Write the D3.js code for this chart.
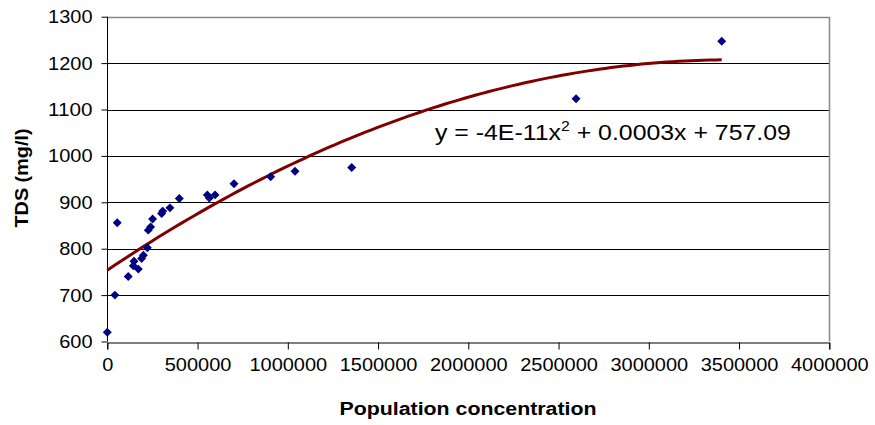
<!DOCTYPE html>
<html>
<head>
<meta charset="utf-8">
<script src="https://cdn.jsdelivr.net/npm/d3@7"></script>
<style>
  body { margin: 0; background: #fff; }
  text { font-family: "Liberation Sans", Arial, sans-serif; fill: #000; }
</style>
</head>
<body>
<div id="chart"></div>
<script>
// scatter data
const population = [0, 42000, 55000, 116000, 144000, 148000, 172000, 190000, 200000, 222000,
  227000, 240000, 251000, 301000, 307000, 347000, 399000, 554000, 565000, 597000,
  702000, 905000, 1040000, 1354000, 2597000, 3404000];
const tds = [620, 700, 856, 740, 763, 773, 756, 779, 786, 802,
  840, 847, 864, 876, 881, 888, 908, 916, 909, 916,
  940, 955, 967, 975, 1123, 1247];

const xTicks = [0, 500000, 1000000, 1500000, 2000000, 2500000, 3000000, 3500000, 4000000];
const yTicks = [600, 700, 800, 900, 1000, 1100, 1200, 1300];
const equationLabel = ["y = -4E-11x", "2", " + 0.0003x + 757.09"];

const width = 875, height = 425;
const x = d3.scaleLinear().domain([0, 4000000]).range([107.3, 829.3]);
const y = d3.scaleLinear().domain([600, 1300]).range([341.5, 16.7]);

const svg = d3.select("#chart").append("svg")
  .attr("width", width).attr("height", height);

// gridlines
svg.append("g")
  .selectAll("line")
  .data(yTicks.slice(1, -1))
  .join("line")
  .attr("x1", x(0)).attr("x2", x(4000000))
  .attr("y1", d => Math.round(y(d)) + 0.5).attr("y2", d => Math.round(y(d)) + 0.5)
  .attr("stroke", "#000").attr("stroke-width", 1);

// plot border (top/right grey)
svg.append("path")
  .attr("d", `M${x(0)},${Math.round(y(1300)) + 0.5}H${Math.round(x(4000000)) + 0.5}V${y(600)}`)
  .attr("fill", "none").attr("stroke", "#888").attr("stroke-width", 1.5);

// axes
const xAxis = svg.append("g")
  .attr("transform", `translate(0,${Math.round(y(600)) + 0.5})`)
  .call(d3.axisBottom(x).tickValues(xTicks).tickSize(7).tickPadding(8).tickFormat(d3.format("d")));
const yAxis = svg.append("g")
  .attr("transform", `translate(${Math.round(x(0)) + 0.5},0)`)
  .call(d3.axisLeft(y).tickValues(yTicks).tickSize(6).tickPadding(9).tickFormat(d3.format("d")));
[xAxis, yAxis].forEach(g => {
  g.select(".domain").attr("stroke", "#000").attr("stroke-width", 1);
  g.selectAll(".tick line").attr("stroke", "#000");
  g.selectAll(".tick text")
    .attr("font-size", 19)
    .attr("font-family", "Liberation Sans, Arial, sans-serif")
    .attr("textLength", function () { return this.textContent.length * 11.1; })
    .attr("lengthAdjust", "spacingAndGlyphs");
});
yAxis.select(".domain").attr("d", `M0,${y(1300)}V${y(600)}`);

// quadratic least squares trendline (as Excel does)
function polyFit(xs, ys) {
  const s = xs.map(v => v / 1e6);
  const S = k => d3.sum(s, v => Math.pow(v, k));
  const T = k => d3.sum(s, (v, i) => Math.pow(v, k) * ys[i]);
  const A = [[S(0), S(1), S(2)], [S(1), S(2), S(3)], [S(2), S(3), S(4)]];
  const B = [T(0), T(1), T(2)];
  for (let i = 0; i < 3; i++) {
    for (let j = i + 1; j < 3; j++) {
      const f = A[j][i] / A[i][i];
      for (let k = i; k < 3; k++) A[j][k] -= f * A[i][k];
      B[j] -= f * B[i];
    }
  }
  const c = [0, 0, 0];
  for (let i = 2; i >= 0; i--) {
    let v = B[i];
    for (let k = i + 1; k < 3; k++) v -= A[i][k] * c[k];
    c[i] = v / A[i][i];
  }
  return v => c[0] + c[1] * (v / 1e6) + c[2] * Math.pow(v / 1e6, 2);
}
const trend = polyFit(population, tds);
const xMin = d3.min(population), xMax = d3.max(population);
const trendPts = d3.range(0, 101).map(i => xMin + (xMax - xMin) * i / 100);

svg.append("path")
  .datum(trendPts)
  .attr("d", d3.line().x(d => x(d)).y(d => y(trend(d))))
  .attr("fill", "none").attr("stroke", "#800000").attr("stroke-width", 3);

// points
svg.append("g")
  .selectAll("path")
  .data(population)
  .join("path")
  .attr("d", d3.symbol(d3.symbolSquare, 40))
  .attr("transform", (d, i) => `translate(${x(d)},${y(tds[i])}) rotate(45)`)
  .attr("fill", "#000080");

// equation label
const eq = svg.append("text")
  .attr("transform", "translate(435,140) scale(1.13,1)")
  .attr("font-size", 22);
eq.append("tspan").text(equationLabel[0]);
eq.append("tspan").text(equationLabel[1]).attr("font-size", 14).attr("dy", -9);
eq.append("tspan").text(equationLabel[2]).attr("dy", 9);

// axis titles
svg.append("text")
  .attr("x", 468).attr("y", 415)
  .attr("text-anchor", "middle")
  .attr("font-size", 18).attr("font-weight", "bold")
  .attr("textLength", 257).attr("lengthAdjust", "spacingAndGlyphs")
  .text("Population concentration");
svg.append("text")
  .attr("transform", "translate(28,178) rotate(-90)")
  .attr("text-anchor", "middle")
  .attr("font-size", 18).attr("font-weight", "bold")
  .attr("textLength", 99).attr("lengthAdjust", "spacingAndGlyphs")
  .text("TDS (mg/l)");
</script>
</body>
</html>
